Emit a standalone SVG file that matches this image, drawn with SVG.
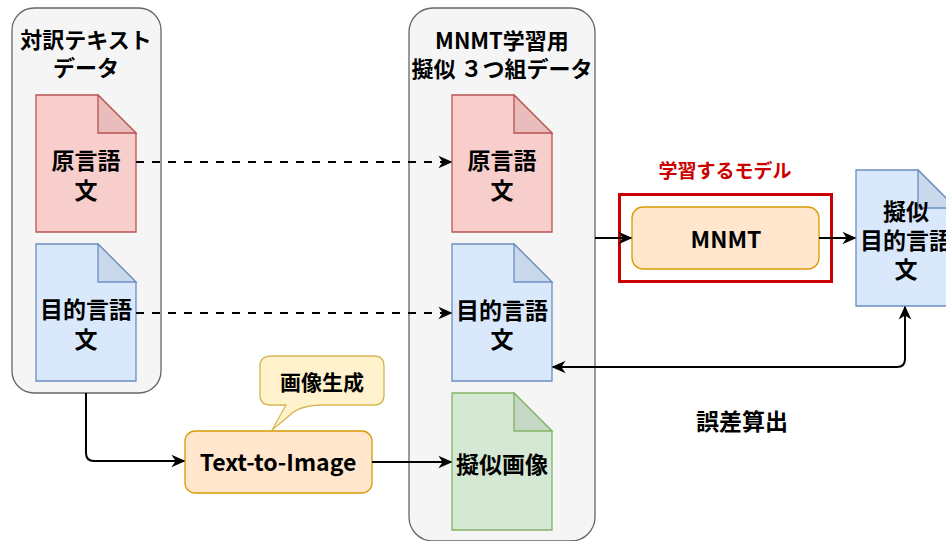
<svg xmlns="http://www.w3.org/2000/svg" width="946" height="541" viewBox="0 0 946 541">
  <style>
    text { font-family: "Noto Sans CJK JP", "Noto Sans", sans-serif; text-anchor: middle; fill: #000; }
    .t { font-size: 22px; font-weight: 700; }
    .d { font-size: 23px; font-weight: 700; }
    .container { fill: #f5f5f5; stroke: #666666; stroke-width: 1.3; }
    .red { fill: #f8cecc; stroke: #b85450; stroke-width: 1.3; }
    .blue { fill: #dae8fc; stroke: #6c8ebf; stroke-width: 1.3; }
    .green { fill: #d5e8d4; stroke: #82b366; stroke-width: 1.3; }
    .orange { fill: #ffe6cc; stroke: #d79b00; stroke-width: 1.3; }
    .callout { fill: #fff2cc; stroke: #d6b656; stroke-width: 1.3; }
    .edge { fill: none; stroke: #000; stroke-width: 2; }
    .dash { stroke-dasharray: 8 8; }
  </style>
  <defs>
    <marker id="arrow" viewBox="0 0 10 10" refX="9" refY="5" markerWidth="7" markerHeight="7" orient="auto-start-reverse" markerUnits="strokeWidth">
      <path d="M0,0.5 L10,5 L0,9.5 L3,5 Z" fill="#000"/>
    </marker>
  </defs>

  <!-- parallel text corpus -->
  <g id="corpus">
    <rect class="container" x="12" y="8" width="149" height="385" rx="22"/>
    <text class="t" x="86" y="48">対訳テキスト</text>
    <text class="t" x="86" y="76">データ</text>
  </g>
  <g id="src-doc">
    <path class="red" d="M36,95 H98 L136,133 V232 H36 Z"/>
    <path d="M98,95 V133 H136 Z" fill="#e9bdbb" stroke="#b85450" stroke-width="1.3"/>
    <text class="d" x="86" y="169">原言語</text>
    <text class="d" x="86" y="199">文</text>
  </g>
  <g id="tgt-doc">
    <path class="blue" d="M36,244 H98 L136,282 V381 H36 Z"/>
    <path d="M98,244 V282 H136 Z" fill="#cad8ec" stroke="#6c8ebf" stroke-width="1.3"/>
    <text class="d" x="86" y="318">目的言語</text>
    <text class="d" x="86" y="348">文</text>
  </g>

  <!-- pseudo triplet data -->
  <g id="triplet">
    <rect class="container" x="409" y="8" width="186" height="533" rx="24"/>
    <text class="t" x="502" y="49">MNMT学習用</text>
    <text class="t" x="502" y="77">擬似 ３つ組データ</text>
  </g>
  <g id="triplet-src">
    <path class="red" d="M452,95 H514 L552,133 V232 H452 Z"/>
    <path d="M514,95 V133 H552 Z" fill="#e9bdbb" stroke="#b85450" stroke-width="1.3"/>
    <text class="d" x="502" y="169">原言語</text>
    <text class="d" x="502" y="199">文</text>
  </g>
  <g id="triplet-tgt">
    <path class="blue" d="M452,244 H514 L552,282 V381 H452 Z"/>
    <path d="M514,244 V282 H552 Z" fill="#cad8ec" stroke="#6c8ebf" stroke-width="1.3"/>
    <text class="d" x="502" y="319">目的言語</text>
    <text class="d" x="502" y="348">文</text>
  </g>
  <g id="triplet-img">
    <path class="green" d="M452,393 H514 L552,431 V530 H452 Z"/>
    <path d="M514,393 V431 H552 Z" fill="#c5d8c4" stroke="#82b366" stroke-width="1.3"/>
    <text class="d" x="502" y="473">擬似画像</text>
  </g>

  <!-- model -->
  <g id="model">
    <text x="725" y="178" style="font-size:19px;font-weight:700;fill:#cc0000">学習するモデル</text>
    <rect x="619.5" y="194.5" width="212" height="87" fill="none" stroke="#cc0000" stroke-width="3"/>
    <rect class="orange" x="632" y="207" width="187" height="62" rx="11"/>
    <text x="726" y="248" style="font-size:23px;font-weight:700">MNMT</text>
  </g>
  <g id="pred-doc">
    <path class="blue" d="M856,170 H918 L956,208 V306 H856 Z"/>
    <path d="M918,170 V208 H956 Z" fill="#cad8ec" stroke="#6c8ebf" stroke-width="1.3"/>
    <text class="d" x="906" y="220">擬似</text>
    <text class="d" x="906" y="249">目的言語</text>
    <text class="d" x="906" y="278">文</text>
  </g>

  <!-- image generation -->
  <g id="t2i">
    <rect class="orange" x="185" y="431" width="187" height="62" rx="10"/>
    <text x="278" y="471" style="font-size:23px;font-weight:700">Text-to-Image</text>
  </g>
  <g id="t2i-note">
    <path class="callout" d="M272,356 H374 Q384,356 384,366 V395 Q384,405 374,405 H323 Q300,405 290,415 L272,430 L286,405 H270 Q260,405 260,395 V366 Q260,356 272,356 Z"/>
    <text x="322" y="390" style="font-size:21px;font-weight:700">画像生成</text>
  </g>

  <g id="loss-label">
    <text x="742" y="430" style="font-size:23px;font-weight:700">誤差算出</text>
  </g>

  <!-- connectors -->
  <g id="edges">
    <line class="edge dash" x1="136" y1="162" x2="451" y2="162" marker-end="url(#arrow)"/>
    <line class="edge dash" x1="136" y1="313" x2="451" y2="313" marker-end="url(#arrow)"/>
    <path class="edge" d="M86,393 V453 Q86,461 94,461 H184" marker-end="url(#arrow)"/>
    <line class="edge" x1="372" y1="462" x2="451" y2="462" marker-end="url(#arrow)"/>
    <line class="edge" x1="595" y1="238" x2="631" y2="238" marker-end="url(#arrow)"/>
    <line class="edge" x1="819" y1="238" x2="855" y2="238" marker-end="url(#arrow)"/>
    <path class="edge" d="M553,367 H897 Q905,367 905,359 V307" marker-start="url(#arrow)" marker-end="url(#arrow)"/>
  </g>
</svg>
